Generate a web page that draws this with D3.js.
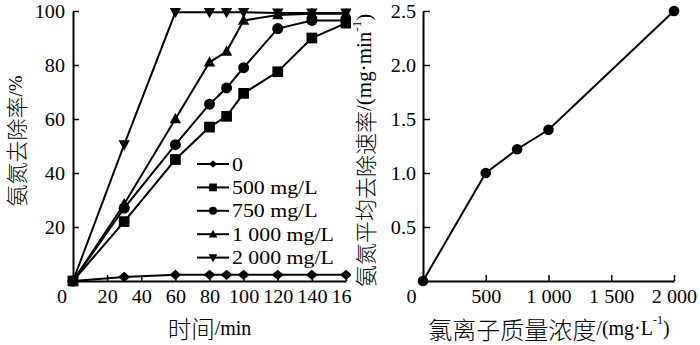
<!DOCTYPE html>
<html><head><meta charset="utf-8">
<script src="https://cdn.jsdelivr.net/npm/d3@7"></script>
<style>
body{margin:0;background:#fff}
svg{display:block;background:#fff}
text{font-family:"Liberation Serif","Times New Roman",serif;fill:#000}
.cjk{font-family:"Noto Sans CJK SC",sans-serif;font-weight:300;}
</style></head><body>
<svg id="c" width="700" height="345"></svg>
<script>
// ---- data: left panel (removal vs time) ----
const times = [0, 30, 60, 80, 90, 100, 120, 140, 160];
const seriesNames = ["0", "500 mg/L", "750 mg/L", "1 000 mg/L", "2 000 mg/L"];
const removal0    = [0, 1.5, 2.3, 2.3, 2.3, 2.3, 2.3, 2.3, 2.3];
const removal500  = [0, 22, 45, 57, 61, 69.5, 77.5, 90, 95.5];
const removal750  = [0, 27, 50.5, 65.5, 71.5, 79, 93.5, 96.5, 96.5];
const removal1000 = [0, 28.5, 60, 81, 85, 96.5, 98.5, 99, 99];
const removal2000 = [0, 50.5, 99.5, 99.5, 99.5, 99.5, 99.3, 99.3, 99.3];
const timeTicks = [20, 40, 60, 80, 100, 120, 140, 160];
const removalTicks = [20, 40, 60, 80, 100];

// ---- data: right panel (avg rate vs chloride) ----
const chlorideConc = [0, 500, 750, 1000, 2000];
const avgRate = [0, 1.0, 1.22, 1.4, 2.5];
const concTicks = [500, 1000, 1500, 2000];
const rateTicks = [0.5, 1.0, 1.5, 2.0, 2.5];

const SX = 1.12;
const svg = d3.select("#c");

// custom marker shapes
const symDiamond = {draw(ctx, size){const s=Math.sqrt(size)/2; ctx.moveTo(0,-0.85*s); ctx.lineTo(s,0); ctx.lineTo(0,0.85*s); ctx.lineTo(-s,0); ctx.closePath();}};
const symTriUp = {draw(ctx, size){const s=Math.sqrt(size)/2; ctx.moveTo(0,-1.05*s); ctx.lineTo(s,0.75*s); ctx.lineTo(-s,0.75*s); ctx.closePath();}};
const symTriDown = {draw(ctx, size){const s=Math.sqrt(size)/2; ctx.moveTo(0,1.05*s); ctx.lineTo(s,-0.75*s); ctx.lineTo(-s,-0.75*s); ctx.closePath();}};
const seriesData = [removal0, removal500, removal750, removal1000, removal2000];
const seriesSym = [
  {type: symDiamond, size: 144, lsize: 70},
  {type: d3.symbolSquare, size: 115, lsize: 60},
  {type: d3.symbolCircle, size: 95, lsize: 50},
  {type: symTriUp, size: 130, lsize: 75},
  {type: symTriDown, size: 130, lsize: 75}
];

// ---------- LEFT PANEL ----------
svg.append("clipPath").attr("id","clipL").append("rect").attr("x",0).attr("y",0).attr("width",351).attr("height",345);
const L = svg.append("g").attr("clip-path","url(#clipL)");
const x1 = d3.scaleLinear().domain([0,160]).range([73,346]);
const y1 = d3.scaleLinear().domain([0,100]).range([281,11]);

const gx1 = L.append("g").attr("transform","translate(0,281)")
  .call(d3.axisBottom(x1).tickValues(timeTicks).tickSizeInner(-6).tickSizeOuter(0).tickPadding(0));
const gy1 = L.append("g").attr("transform","translate(73,0)")
  .call(d3.axisLeft(y1).tickValues(removalTicks).tickSizeInner(-6).tickSizeOuter(0).tickPadding(8));

function styleAxis(g, horiz){
  g.select(".domain").attr("stroke","#000").attr("stroke-width",2);
  g.selectAll(".tick line").attr("stroke","#000").attr("stroke-width",1.5);
  const t = g.selectAll(".tick text").attr("font-size",18).attr("font-family","Liberation Serif").attr("fill","#000");
  if (horiz) t.attr("y",22).attr("dy",0).attr("transform",`scale(${SX},1)`);
  else t.attr("x",-8/SX).attr("dy","0.36em").attr("transform",`scale(${SX},1)`);
}
styleAxis(gx1,true); styleAxis(gy1,false);
gx1.attr("font-family",null); gy1.attr("font-family",null);

// corner "0"
L.append("text").attr("transform",`translate(${x1(0)-11},303) scale(${SX},1)`)
  .attr("text-anchor","middle").attr("font-size",18).text("0");

const line1 = d3.line().x((d,i)=>x1(times[i])).y(d=>y1(d));
seriesData.forEach((vals,si)=>{
  L.append("path").datum(vals).attr("d",line1).attr("fill","none").attr("stroke","#000").attr("stroke-width",2);
});
seriesData.forEach((vals,si)=>{
  const sym = d3.symbol().type(seriesSym[si].type).size(seriesSym[si].size);
  L.append("g").selectAll("path").data(vals).join("path")
    .attr("d",sym).attr("fill","#000")
    .attr("transform",(d,i)=>`translate(${x1(times[i])},${y1(d)})`);
});

// legend
const lg = L.append("g");
seriesNames.forEach((name,i)=>{
  const ly = 164 + i*23.4;
  lg.append("line").attr("x1",197).attr("x2",229).attr("y1",ly).attr("y2",ly).attr("stroke","#000").attr("stroke-width",2);
  lg.append("path").attr("d",d3.symbol().type(seriesSym[i].type).size(seriesSym[i].lsize)())
    .attr("transform",`translate(213,${ly})`).attr("fill","#000");
  lg.append("text").attr("transform",`translate(232,${ly}) scale(${SX},1)`)
    .attr("dominant-baseline","central").attr("font-size",19.5).text(name);
});

// left titles
const ty1 = svg.append("text").attr("transform","translate(15,141) rotate(-90)")
  .attr("text-anchor","middle").attr("dominant-baseline","central");
ty1.append("tspan").attr("class","cjk").attr("font-size",22).text("氨氮去除率");
ty1.append("tspan").attr("font-size",19).text("/%");

const tx1 = svg.append("text").attr("x",209.5).attr("y",328)
  .attr("text-anchor","middle").attr("dominant-baseline","central");
tx1.append("tspan").attr("class","cjk").attr("font-size",23.5).text("时间");
tx1.append("tspan").attr("font-size",20).text("/min");

// ---------- RIGHT PANEL ----------
const R = svg.append("g");
const x2 = d3.scaleLinear().domain([0,2000]).range([423,674]);
const y2 = d3.scaleLinear().domain([0,2.5]).range([281,11]);
const fmtConc = d => d3.format(",")(d).replace(/,/g," ");
const gx2 = R.append("g").attr("transform","translate(0,281)")
  .call(d3.axisBottom(x2).tickValues(concTicks).tickFormat(fmtConc).tickSizeInner(-6).tickSizeOuter(0).tickPadding(0));
const gy2 = R.append("g").attr("transform","translate(423,0)")
  .call(d3.axisLeft(y2).tickValues(rateTicks).tickFormat(d3.format(".1f")).tickSizeInner(-7).tickSizeOuter(0).tickPadding(7));
styleAxis(gx2,true); styleAxis(gy2,false);
gy2.selectAll(".tick text").attr("x",-7/SX);
gx2.attr("font-family",null); gy2.attr("font-family",null);
R.append("text").attr("transform",`translate(${x2(0)-11.5},303) scale(${SX},1)`)
  .attr("text-anchor","middle").attr("font-size",18).text("0");

const line2 = d3.line().x((d,i)=>x2(chlorideConc[i])).y(d=>y2(d));
R.append("path").datum(avgRate).attr("d",line2).attr("fill","none").attr("stroke","#000").attr("stroke-width",2);
R.append("g").selectAll("circle").data(avgRate).join("circle")
  .attr("cx",(d,i)=>x2(chlorideConc[i])).attr("cy",d=>y2(d)).attr("r",5.3).attr("fill","#000");

// right titles
const ty2 = svg.append("text").attr("transform","translate(364,287) rotate(-90)")
  .attr("text-anchor","start").attr("dominant-baseline","central");
ty2.append("tspan").attr("class","cjk").attr("font-size",22).text("氨氮平均去除速率");
ty2.append("tspan").attr("font-size",21).text("/(mg·min");
ty2.append("tspan").attr("font-size",13).attr("dy","-0.6em").text("-1");
ty2.append("tspan").attr("font-size",21).attr("dy","0.37em").text(")");

const tx2 = svg.append("text").attr("x",549).attr("y",327.5)
  .attr("text-anchor","middle").attr("dominant-baseline","central");
tx2.append("tspan").attr("class","cjk").attr("font-size",24).text("氯离子质量浓度");
tx2.append("tspan").attr("font-size",20).text("/(mg·L");
tx2.append("tspan").attr("font-size",12).attr("dy","-0.6em").text("-1");
tx2.append("tspan").attr("font-size",20).attr("dy","0.37em").text(")");
</script>
</body></html>
